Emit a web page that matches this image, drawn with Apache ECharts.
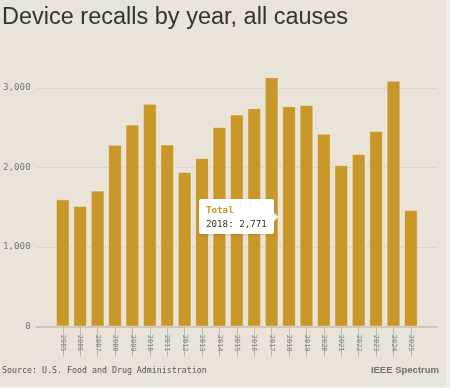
<!DOCTYPE html>
<html>
<head>
<meta charset="utf-8">
<script src="https://cdn.jsdelivr.net/npm/echarts@6/dist/echarts.min.js"></script>
<style>
html,body{margin:0;padding:0;background:#efeeea;width:450px;height:388px;overflow:hidden;}
#chart{width:446px;height:386px;background:#e9e3da;}
</style>
</head>
<body>
<div id="chart"></div>
<script>
// ---- data ----
var years = ['2005','2006','2007','2008','2009','2010','2011','2012','2013','2014','2015','2016','2017','2018','2019','2020','2021','2022','2023','2024','2025'];
var recalls = [1600,1515,1710,2285,2540,2800,2290,1945,2120,2510,2665,2745,3135,2771,2785,2425,2030,2170,2460,3090,1465];
var yTicks = [0,1000,2000,3000];
var seriesName = 'Total';
var titleText = 'Device recalls by year, all causes';
var sourceText = 'Source: U.S. Food and Drug Administration';
var brandText = 'IEEE Spectrum';
var tipYear = '2018';

// padding categories at both ends
var cats = [''].concat(years, ['']);
var vals = ['-'].concat(recalls, ['-']);
var mono = '"DejaVu Sans Mono", "Liberation Mono", monospace';
function fmt(n){ return String(n).replace(/\B(?=(\d{3})+(?!\d))/g, ','); }

var chart = echarts.init(document.getElementById('chart'), null, {renderer:'canvas'});
chart.setOption({
  animation: false,
  backgroundColor: '#e9e3da',
  grid: {left: 35.5, right: 9, top: 72, bottom: 59.3, containLabel: false},
  tooltip: {
    trigger: 'item',
    position: 'left',
    alwaysShowContent: true,
    transitionDuration: 0,
    backgroundColor: '#ffffff',
    borderColor: '#ffffff',
    borderWidth: 0,
    borderRadius: 2,
    padding: [4, 7],
    extraCssText: 'box-shadow:0 1px 3px rgba(0,0,0,0.12);',
    textStyle: {fontFamily: mono, fontSize: 9.2, color: '#333'},
    formatter: function(p){
      return '<div style="font-family:' + mono.replace(/"/g,"'") + ';font-size:9.2px;line-height:13.5px;">' +
        '<div style="color:#c8952a;font-weight:bold;">' + p.seriesName + '</div>' +
        '<div style="color:#333;">' + p.name + ': ' + fmt(p.value) + '</div></div>';
    }
  },
  xAxis: {
    type: 'category',
    data: cats,
    boundaryGap: true,
    axisLine: {show: true, lineStyle: {color: '#c4bfb7', width: 1.5}},
    axisTick: {
      show: true, alignWithLabel: true, length: 30,
      lineStyle: {color: '#bdb8b0', width: 1},
      interval: function(i, v){ return v !== ''; }
    },
    axisLabel: {
      rotate: -90, interval: 0, margin: 8,
      fontFamily: mono, fontSize: 7, color: '#808080',
      padding: [8, 0, 0, 0]
    },
    splitLine: {show: false}
  },
  yAxis: {
    type: 'value',
    min: 0, max: 3200, interval: 1000,
    axisLine: {show: false},
    axisTick: {show: false},
    axisLabel: {
      margin: 6, fontFamily: mono, fontSize: 9.2, color: '#777',
      showMaxLabel: false,
      formatter: function(v){ return yTicks.indexOf(v) >= 0 ? fmt(v) : ''; }
    },
    splitLine: {show: true, showMaxLine: false, lineStyle: {color: '#dcd6cd', width: 1}}
  },
  series: [{
    name: seriesName,
    type: 'bar',
    data: vals,
    barCategoryGap: '21%',
    itemStyle: {color: '#c9962a', borderColor: 'rgba(255,250,235,0.45)', borderWidth: 1},
    emphasis: {disabled: true}
  }],
  graphic: [
    {type: 'text', left: 2, top: 6, style: {text: titleText, font: '23.5px "Liberation Sans", Arial, sans-serif', fill: '#333333'}},
    {type: 'text', left: 2, top: 367, style: {text: sourceText, font: '8.3px ' + mono, fill: '#555555'}},
    {type: 'text', right: 7, top: 365, style: {text: brandText, font: 'bold 9.5px "Liberation Sans", Arial, sans-serif', fill: '#707070'}}
  ]
});
chart.dispatchAction({type: 'showTip', seriesIndex: 0, dataIndex: years.indexOf(tipYear) + 1});
</script>
</body>
</html>
